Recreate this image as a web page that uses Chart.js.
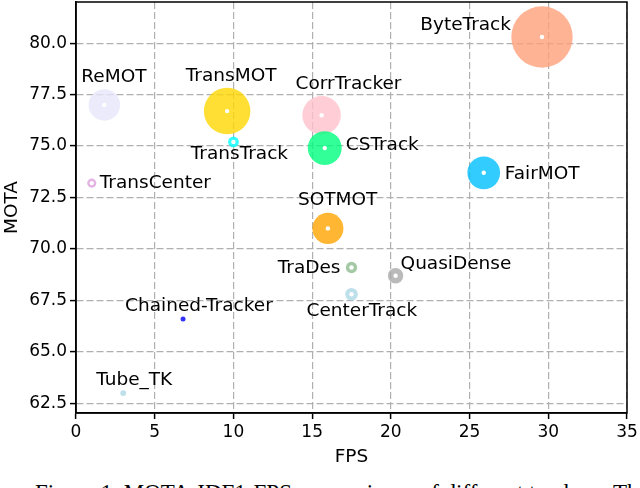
<!DOCTYPE html>
<html>
<head>
<meta charset="utf-8">
<script src="https://cdn.jsdelivr.net/npm/chart.js@4.4.0/dist/chart.umd.min.js"></script>
<style>
  html, body { margin: 0; padding: 0; background: #fff; }
  body { width: 640px; height: 488px; overflow: hidden; position: relative; }
  #wrap { position: absolute; left: 0; top: 0; width: 640px; height: 475px; }
  #caption {
    position: absolute; left: 35px; top: 481px;
    font-family: 'Liberation Serif', serif; font-size: 23px; line-height: 23px;
    white-space: nowrap; color: #000;
  }
</style>
</head>
<body>
<div id="wrap"><canvas id="chart" width="640" height="475"></canvas></div>
<div id="caption">Figure 1. MOTA-IDF1-FPS comparisons of different trackers. The</div>
<script>
// data (MOT17 test set)
const trackers = ['ReMOT', 'TransCenter', 'TransMOT', 'TransTrack', 'CorrTracker', 'CSTrack', 'SOTMOT',
                  'TraDes', 'CenterTrack', 'QuasiDense', 'FairMOT', 'ByteTrack', 'Chained-Tracker', 'Tube_TK'];
const fps  = [1.8, 1.0, 9.6, 10.0, 15.6, 15.8, 16.0, 17.5, 17.5, 20.3, 25.9, 29.6, 6.8, 3.0];
const mota = [77.0, 73.2, 76.7, 75.2, 76.5, 74.9, 71.0, 69.1, 67.8, 68.7, 73.7, 80.3, 66.6, 63.0];
const idf1 = [72.0, 62.2, 75.1, 63.5, 73.6, 72.6, 71.9, 63.9, 64.7, 66.3, 72.3, 77.3, 57.4, 58.6];
const xTicks = [0, 5, 10, 15, 20, 25, 30, 35];
const yTicks = [62.5, 65.0, 67.5, 70.0, 72.5, 75.0, 77.5, 80.0];

// styling
const colors = ['#E6E6FA', '#DDA0DD', '#FFD700', '#00FFFF', '#FFC0CB', '#00FF7F', '#FFA500',
                '#8FBC8F', '#ADD8E6', '#A9A9A9', '#00BFFF', '#FFA07A', '#0000FF', '#ADD8E6'];
// label placement: [align, dx, dy] in pixels from the bubble centre
const labelLayout = [
  ['left', -23, -28], ['left', 8, 0], ['center', 4, -35], ['center', 6, 12],
  ['left', -26, -31], ['left', 21, -3], ['left', -30, -28], ['right', -11, 1],
  ['left', -45, 17], ['left', 5, -12], ['left', 21, 1], ['right', -31, -12],
  ['left', -58, -13], ['left', -27, -13]
];

const FONT = "'DejaVu Sans', sans-serif";

function rgba(hex, a) {
  const n = parseInt(hex.slice(1), 16);
  return `rgba(${(n >> 16) & 255}, ${(n >> 8) & 255}, ${n & 255}, ${a})`;
}

// bubble radius grows with IDF1
function idfRadius(v) {
  return 2.5 * Math.exp(0.126 * (v - 57.4));
}

const bubbles = trackers.map((t, i) => ({ x: fps[i], y: mota[i], r: idfRadius(idf1[i]) }));
const centres = trackers.map((t, i) => ({ x: fps[i], y: mota[i], r: bubbles[i].r >= 4 ? 2.2 : 0 }));

const labelPlugin = {
  id: 'labels',
  afterDatasetsDraw(chart) {
    const { ctx, chartArea, scales } = chart;
    ctx.save();
    ctx.strokeStyle = '#000';
    ctx.lineWidth = 1.5;
    ctx.strokeRect(chartArea.left, chartArea.top, chartArea.right - chartArea.left, chartArea.bottom - chartArea.top);
    ctx.fillStyle = '#000';
    ctx.font = '18.5px ' + FONT;
    ctx.textBaseline = 'middle';
    trackers.forEach((name, i) => {
      const px = scales.x.getPixelForValue(fps[i]);
      const py = scales.y.getPixelForValue(mota[i]);
      const [align, dx, dy] = labelLayout[i];
      ctx.textAlign = align;
      ctx.fillText(name, px + dx, py + dy);
    });
    ctx.restore();
  }
};

new Chart(document.getElementById('chart').getContext('2d'), {
  type: 'bubble',
  data: {
    datasets: [
      {
        data: centres,
        backgroundColor: '#ffffff',
        borderWidth: 0,
        order: 0
      },
      {
        data: bubbles,
        backgroundColor: colors.map(c => rgba(c, 0.8)),
        borderWidth: 0,
        order: 1
      }
    ]
  },
  options: {
    responsive: false,
    animation: false,
    layout: { autoPadding: false, padding: { top: 2, right: 13, left: 0, bottom: 0 } },
    plugins: { legend: { display: false }, tooltip: { enabled: false } },
    scales: {
      x: {
        type: 'linear',
        min: 0,
        max: 35,
        afterBuildTicks: s => { s.ticks = xTicks.map(v => ({ value: v })); },
        afterFit: s => { s.height = 62; s.paddingLeft = 0; s.paddingRight = 0; },
        ticks: { color: '#000', font: { family: FONT, size: 17 }, padding: 3, maxRotation: 0 },
        grid: { color: '#b0b0b0', lineWidth: 1.2, tickLength: 6, tickColor: '#000', tickWidth: 1.5 },
        border: { color: '#000', width: 1.5, dash: [7, 3] },
        title: { display: true, text: 'FPS', color: '#000', font: { family: FONT, size: 18.5 }, padding: { top: 7, bottom: 7 } }
      },
      y: {
        type: 'linear',
        min: 62.03,
        max: 82.0,
        afterBuildTicks: s => { s.ticks = yTicks.map(v => ({ value: v })); },
        afterFit: s => { s.width = 76; s.paddingTop = 0; s.paddingBottom = 0; },
        ticks: { color: '#000', font: { family: FONT, size: 17 }, padding: 3, callback: v => v.toFixed(1) },
        grid: { color: '#b0b0b0', lineWidth: 1.2, tickLength: 6, tickColor: '#000', tickWidth: 1.5 },
        border: { color: '#000', width: 1.5, dash: [7, 3] },
        title: { display: true, text: 'MOTA', color: '#000', font: { family: FONT, size: 18.5 }, padding: { top: 1, bottom: 1 } }
      }
    }
  },
  plugins: [labelPlugin]
});
</script>
</body>
</html>
